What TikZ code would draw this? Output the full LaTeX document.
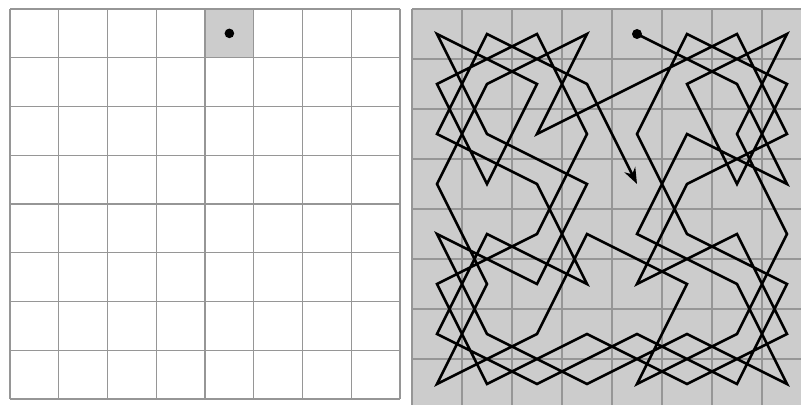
\documentclass[tikz,border=0pt]{standalone}
\usetikzlibrary{arrows.meta}
\definecolor{sqgray}{RGB}{204,204,204}
\definecolor{linegray}{RGB}{150,150,150}

\begin{document}
\begin{tikzpicture}[x=0.5pt,y=-0.5pt,
  gridline/.style={draw=linegray,line width=0.7pt},
  tour/.style={line width=1.3pt}]
\useasboundingbox (0,0) rectangle (801,405);
\clip (0,0) rectangle (801,405);
% left board, knight on its start square
\fill[sqgray] (10+4*48.75,9) rectangle ++(48.75,48.75);
\foreach \i in {0,...,8}{
  \draw[gridline] (10+\i*48.75,9) -- (10+\i*48.75,399);
  \draw[gridline] (10,9+\i*48.75) -- (400,9+\i*48.75);
}
\coordinate (knight) at (10+4.5*48.75,9+0.5*48.75);
\fill (knight) circle (2.4pt);
% right board
\fill[sqgray] (412,9) rectangle (812,409);
\foreach \i in {0,...,8}{
  \draw[gridline] (412+\i*50,9) -- (412+\i*50,409);
  \draw[gridline] (412,9+\i*50) -- (812,9+\i*50);
}
% square centres s<col><row>
\foreach \c in {0,...,7}{
  \foreach \r in {0,...,7}{
    \coordinate (s\c\r) at (437+50*\c,34+50*\r);
  }
}
% knight's tour
\draw[tour,-{Stealth[length=8pt,width=6pt]}] (s40) -- (s61) -- (s73) -- (s52) -- (s44) -- (s65) -- (s77) -- (s56)
  -- (s37) -- (s16) -- (s04) -- (s25) -- (s33) -- (s12) -- (s00) -- (s21)
  -- (s13) -- (s01) -- (s20) -- (s32) -- (s24) -- (s05) -- (s17) -- (s36)
  -- (s57) -- (s76) -- (s64) -- (s45) -- (s53) -- (s72) -- (s60) -- (s41)
  -- (s22) -- (s30) -- (s11) -- (s03) -- (s15) -- (s07) -- (s26) -- (s34)
  -- (s55) -- (s47) -- (s66) -- (s74) -- (s62) -- (s70) -- (s51) -- (s63)
  -- (s71) -- (s50) -- (s42) -- (s54) -- (s75) -- (s67) -- (s46) -- (s27)
  -- (s06) -- (s14) -- (s35) -- (s23) -- (s02) -- (s10) -- (s31) -- (s43);
\fill (s40) circle (2.5pt);
\end{tikzpicture}
\end{document}
